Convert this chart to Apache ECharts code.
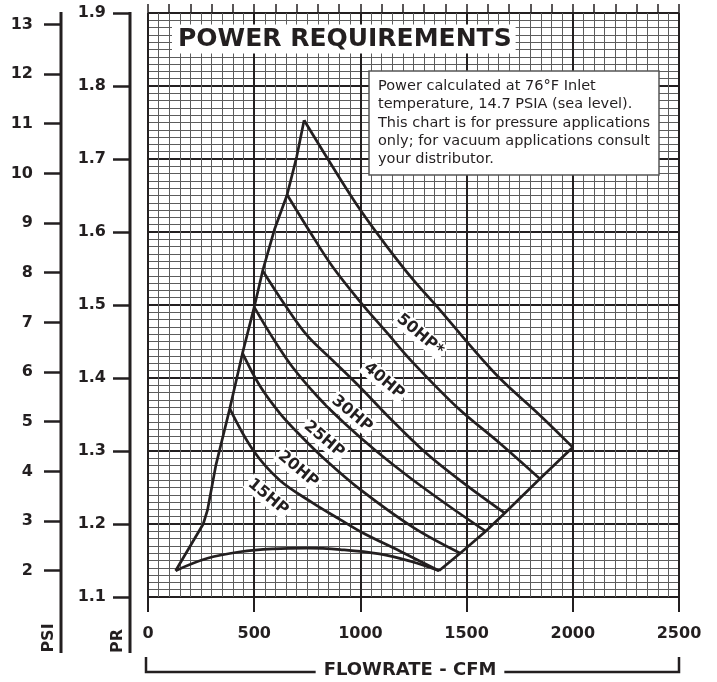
<!DOCTYPE html>
<html>
<head>
<meta charset="utf-8">
<title>Power Requirements</title>
<script src="https://cdn.jsdelivr.net/npm/echarts@6/dist/echarts.min.js"></script>
<style>
  html, body { margin: 0; padding: 0; background: #fff; }
  #chart { width: 717px; height: 682px; }
</style>
</head>
<body>
<div id="chart"></div>
<script>
// points: [flowrate CFM, pressure ratio]
const hpNames = ["15HP", "20HP", "25HP", "30HP", "40HP", "50HP*"];
const hp15 = [[385, 1.358], [495, 1.301], [620, 1.26], [775, 1.229], [905, 1.206], [1010, 1.188], [1185, 1.163], [1370, 1.136]];
const hp20 = [[445, 1.434], [525, 1.39], [620, 1.352], [715, 1.322], [835, 1.288], [1000, 1.247], [1250, 1.195], [1470, 1.16]];
const hp25 = [[500, 1.497], [585, 1.456], [680, 1.415], [800, 1.374], [925, 1.338], [1070, 1.301], [1235, 1.263], [1415, 1.225], [1590, 1.19]];
const hp30 = [[540, 1.547], [645, 1.5], [750, 1.458], [870, 1.424], [1010, 1.384], [1125, 1.349], [1310, 1.297], [1500, 1.253], [1680, 1.215]];
const hp40 = [[655, 1.651], [765, 1.599], [870, 1.552], [1000, 1.504], [1125, 1.462], [1235, 1.425], [1455, 1.36], [1655, 1.311], [1845, 1.262]];
const hp50 = [[735, 1.753], [870, 1.689], [1000, 1.63], [1125, 1.58], [1250, 1.534], [1375, 1.493], [1515, 1.445], [1655, 1.4], [1845, 1.349], [2000, 1.305]];
const bottomEdge = [[130, 1.136], [280, 1.153], [435, 1.162], [590, 1.166], [750, 1.167], [905, 1.165], [1090, 1.159], [1235, 1.149], [1370, 1.136]];
const leftEdge = [[130, 1.136], [260, 1.2], [280, 1.219], [320, 1.281], [385, 1.358], [445, 1.434], [500, 1.497], [540, 1.547], [595, 1.603], [655, 1.651], [700, 1.703], [735, 1.753]];
const rightEdge = [[1370, 1.136], [1470, 1.16], [1590, 1.19], [1680, 1.215], [1845, 1.262], [2000, 1.305]];
const psiTicks = [2, 3, 4, 5, 6, 7, 8, 9, 10, 11, 12, 13];

const noteLines = [
  "Power calculated at 76°F Inlet",
  "temperature, 14.7 PSIA (sea level).",
  "This chart is for pressure applications",
  "only; for vacuum applications consult",
  "your distributor."
];

const ink = "#231f20";
const font = "DejaVu Sans";
const atm = 14.7; // psia at sea level, PSI = (PR - 1) * 14.7

const chart = echarts.init(document.getElementById("chart"));

function curve(data, smooth) {
  return {
    type: "line",
    data: data,
    smooth: smooth,
    showSymbol: false,
    silent: true,
    z: 5,
    lineStyle: { color: ink, width: 2.7 }
  };
}

const tickFont = { color: ink, fontFamily: font, fontWeight: "bold", fontSize: 16 };

let option = {
  animation: false,
  backgroundColor: "#fff",
  grid: { left: 148, top: 13, width: 531, height: 584, outerBoundsMode: "none" },
  xAxis: [
    {
      type: "value", min: 0, max: 2500, interval: 500, z: 2,
      axisLine: { show: false, onZero: false },
      axisTick: { length: 15, lineStyle: { color: ink, width: 2 } },
      axisLabel: Object.assign({ margin: 29, formatter: v => String(v) }, tickFont),
      splitLine: { show: true, lineStyle: { color: ink, width: 2 } },
      minorTick: { show: false, splitNumber: 10 },
      minorSplitLine: { show: true, lineStyle: { color: "#5c5c5c", width: 1 } }
    },
    {
      type: "value", min: 0, max: 2500, interval: 100, z: 1,
      axisLine: { show: false, onZero: false },
      axisTick: { length: 9, lineStyle: { color: ink, width: 1.5 } },
      axisLabel: { show: false },
      splitLine: { show: false }
    }
  ],
  yAxis: [
    {
      type: "value", min: 1.1, max: 1.9, interval: 0.1, position: "left", offset: 18, z: 2,
      axisLine: { show: false, onZero: false },
      axisTick: { length: 17, lineStyle: { color: ink, width: 2.5 } },
      axisLabel: Object.assign({ margin: 24, formatter: v => v.toFixed(1) }, tickFont),
      splitLine: { show: true, lineStyle: { color: ink, width: 2 } },
      minorTick: { show: false, splitNumber: 10 },
      minorSplitLine: { show: true, lineStyle: { color: "#5c5c5c", width: 1 } }
    },
    {
      type: "value", min: (1.1 - 1) * atm, max: (1.9 - 1) * atm, position: "left", offset: 87,
      axisLine: { show: false, onZero: false },
      axisTick: { customValues: psiTicks, length: 17, lineStyle: { color: ink, width: 2.5 } },
      axisLabel: Object.assign({ customValues: psiTicks, margin: 28 }, tickFont),
      splitLine: { show: false }
    }
  ],
  series: [
    curve(leftEdge, false),
    curve(rightEdge, false),
    curve(bottomEdge, 0.4),
    curve(hp15, 0.35),
    curve(hp20, 0.35),
    curve(hp25, 0.35),
    curve(hp30, 0.35),
    curve(hp40, 0.35),
    curve(hp50, 0.35)
  ]
};

chart.setOption(option);

// where the HP names sit, between neighbouring curves
const labelAt = [[565, 1.237], [706, 1.275], [829, 1.316], [960, 1.351], [1111, 1.396], [1281, 1.459]];

const graphics = [
  { type: "line", z: 50, shape: { x1: 61, y1: 12, x2: 61, y2: 653 }, style: { stroke: ink, lineWidth: 3 } },
  { type: "line", z: 50, shape: { x1: 130, y1: 12, x2: 130, y2: 653 }, style: { stroke: ink, lineWidth: 3 } },
  { type: "text", z: 50, x: 49, y: 638, rotation: Math.PI / 2,
    style: { text: "PSI", fontFamily: font, fontWeight: "bold", fontSize: 16, fill: ink, align: "center", verticalAlign: "middle" } },
  { type: "text", z: 50, x: 118, y: 641, rotation: Math.PI / 2,
    style: { text: "PR", fontFamily: font, fontWeight: "bold", fontSize: 16, fill: ink, align: "center", verticalAlign: "middle" } },
  { type: "polyline", z: 50, shape: { points: [[146, 657], [146, 672], [679, 672], [679, 657]] },
    style: { stroke: ink, lineWidth: 2.5, fill: null } },
  { type: "text", z: 60, x: 410, y: 670,
    style: { text: "FLOWRATE - CFM", fontFamily: font, fontWeight: "bold", fontSize: 18, fill: ink,
      align: "center", verticalAlign: "middle", backgroundColor: "#fff", padding: [2, 8] } },
  { type: "text", z: 60, x: 172, y: 39,
    style: { text: "POWER REQUIREMENTS", fontFamily: font, fontWeight: "bold", fontSize: 25, fill: ink,
      align: "left", verticalAlign: "middle", backgroundColor: "#fff", padding: [2, 4, 2, 6] } },
  { type: "rect", z: 60, shape: { x: 369, y: 71, width: 290, height: 104 },
    style: { fill: "#fff", stroke: "#555", lineWidth: 1.5 } },
  { type: "text", z: 61, x: 378, y: 77,
    style: { text: noteLines.join("\n"), fontFamily: font, fontSize: 14.5, lineHeight: 18.3, fill: ink,
      align: "left", verticalAlign: "top" } }
];

hpNames.forEach(function (name, i) {
  const p = chart.convertToPixel({ xAxisIndex: 0, yAxisIndex: 0 }, labelAt[i]);
  graphics.push({
    type: "text", z: 70, x: p[0], y: p[1], rotation: -40 * Math.PI / 180,
    style: { text: name, fontFamily: font, fontWeight: "bold", fontSize: 16, fill: ink,
      align: "center", verticalAlign: "middle", backgroundColor: "#fff", padding: [1, 2] }
  });
});

chart.setOption({ graphic: graphics });
</script>
</body>
</html>
